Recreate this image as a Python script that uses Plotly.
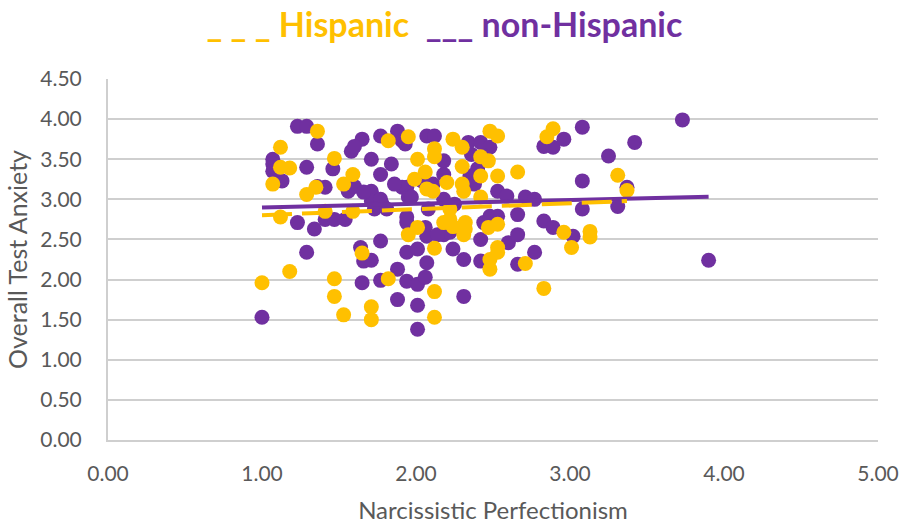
import numpy as np
import plotly.graph_objects as go

# Narcissistic perfectionism vs. overall test anxiety, by group
hisp_x = [1.00, 1.18, 1.47, 1.47, 1.53, 1.71, 1.71, 1.65, 1.82, 1.12,
          1.36, 1.12, 1.12, 1.18, 1.07, 1.35, 1.29, 1.47, 1.59, 1.53,
          1.82, 1.41, 1.59, 1.95, 2.12, 2.12, 2.24, 2.30, 2.48, 2.53,
          2.01, 2.30, 2.42, 2.47, 2.06, 1.99, 2.30, 2.31, 2.42, 2.53,
          2.66, 2.11, 2.07, 2.42, 2.85, 2.89, 3.31, 3.37, 2.96, 3.01,
          3.13, 3.13, 1.95, 2.01, 2.12, 2.12, 2.12, 2.83, 2.48, 2.53,
          2.48, 2.71, 2.18, 2.24, 2.31, 2.32, 2.47, 2.53, 2.22, 2.22,
          2.20, 2.53, 2.32]
hisp_y = [1.96, 2.10, 2.01, 1.79, 1.56, 1.66, 1.50, 2.33, 2.01, 2.78,
          3.85, 3.65, 3.40, 3.39, 3.19, 3.15, 3.06, 3.51, 3.31, 3.19,
          3.73, 2.85, 2.85, 3.78, 3.63, 3.53, 3.75, 3.65, 3.85, 3.79,
          3.50, 3.41, 3.53, 3.48, 3.34, 3.25, 3.19, 3.10, 3.29, 3.29,
          3.34, 3.10, 3.13, 3.03, 3.78, 3.88, 3.30, 3.11, 2.59, 2.40,
          2.60, 2.53, 2.56, 2.65, 2.39, 1.85, 1.53, 1.89, 2.25, 2.34,
          2.13, 2.20, 2.71, 2.66, 2.56, 2.71, 2.65, 2.69, 2.75, 2.88,
          3.21, 2.40, 2.63]

non_x = [1.00, 1.29, 1.66, 1.71, 1.65, 1.77, 1.77, 1.88, 1.88, 1.23,
         1.34, 1.41, 1.47, 1.54, 1.23, 1.29, 1.36, 1.07, 1.07, 1.07,
         1.13, 1.29, 1.36, 1.41, 1.46, 1.56, 1.58, 1.65, 1.60, 1.71,
         1.77, 1.77, 1.88, 1.91, 1.71, 1.71, 1.78, 1.91, 1.93, 2.07,
         2.12, 2.34, 2.42, 2.48, 2.18, 2.40, 2.18, 2.35, 1.94, 1.95,
         2.11, 2.53, 2.59, 2.71, 2.77, 2.83, 2.89, 2.66, 3.73, 3.08,
         2.96, 3.42, 3.25, 3.08, 3.37, 3.31, 3.08, 3.90, 3.02, 1.94,
         2.06, 2.07, 1.94, 2.01, 2.07, 1.94, 2.01, 2.06, 2.01, 2.01,
         2.31, 2.24, 2.31, 2.42, 2.42, 2.60, 2.66, 2.66, 2.77, 2.18,
         2.44, 2.83, 2.89, 1.60, 1.66, 1.77, 1.73, 1.81, 1.94, 1.97,
         2.04, 2.08, 2.18, 2.22, 2.14, 1.64, 2.38, 2.48, 2.53, 1.84,
         1.86, 2.25, 2.36, 2.44]
non_y = [1.53, 2.34, 2.23, 2.24, 1.96, 1.99, 2.48, 1.75, 2.13, 2.71,
         2.63, 2.75, 2.75, 2.75, 3.91, 3.91, 3.69, 3.50, 3.44, 3.35,
         3.23, 3.40, 3.16, 3.15, 3.38, 3.10, 3.60, 3.75, 3.66, 3.50,
         3.31, 3.79, 3.85, 3.73, 3.10, 2.98, 2.94, 3.15, 3.69, 3.79,
         3.79, 3.71, 3.71, 3.65, 3.48, 3.38, 3.31, 3.29, 3.15, 3.03,
         3.19, 3.10, 3.04, 3.03, 3.00, 3.66, 3.65, 2.81, 3.99, 3.90,
         3.75, 3.71, 3.54, 3.23, 3.15, 2.91, 2.88, 2.24, 2.54, 2.71,
         2.65, 2.54, 2.34, 2.38, 2.21, 1.98, 1.94, 2.03, 1.68, 1.38,
         1.79, 2.38, 2.25, 2.50, 2.23, 2.46, 2.56, 2.19, 2.34, 2.56,
         2.71, 2.73, 2.65, 3.16, 3.09, 3.00, 2.88, 2.88, 2.78, 3.03,
         3.23, 2.88, 3.00, 2.59, 2.56, 2.40, 3.19, 2.79, 2.79, 3.44,
         3.19, 2.94, 3.56, 3.54]

x_ticks = [0, 1, 2, 3, 4, 5]
y_ticks = [0, 0.5, 1, 1.5, 2, 2.5, 3, 3.5, 4, 4.5]

GOLD = "#FFC000"
PURPLE = "#7030A0"
GREY_TXT = "#595959"
GRID = "#CFCFCF"
CLEAR = "rgba(0,0,0,0)"
FONT = "Lato, Open Sans, sans-serif"
SP = "&nbsp;"


def trend(xs, ys):
    """Least-squares line spanning the observed x range."""
    xs = np.asarray(xs)
    ys = np.asarray(ys)
    slope, intercept = np.polyfit(xs, ys, 1)
    xr = np.array([xs.min(), xs.max()])
    return xr, slope * xr + intercept


fig = go.Figure()

fig.add_trace(go.Scatter(
    x=non_x, y=non_y, mode="markers", showlegend=False,
    marker=dict(color=PURPLE, size=15, line=dict(width=0)),
))
fig.add_trace(go.Scatter(
    x=hisp_x, y=hisp_y, mode="markers", showlegend=False,
    marker=dict(color=GOLD, size=15, line=dict(width=0)),
))

tx, ty = trend(non_x, non_y)
fig.add_trace(go.Scatter(
    x=tx, y=ty, mode="lines", showlegend=False,
    line=dict(color=PURPLE, width=4),
))
tx, ty = trend(hisp_x, hisp_y)
fig.add_trace(go.Scatter(
    x=tx, y=ty, mode="lines", showlegend=False,
    line=dict(color=GOLD, width=4, dash="30px,10px"),
))

fig.update_layout(
    width=907, height=527,
    margin=dict(l=108, r=29, t=79, b=87),
    paper_bgcolor="white", plot_bgcolor="white",
    font=dict(family=FONT, color=GREY_TXT),
    title=dict(
        text=(f"<span style='color:{GOLD}'>_{SP}_{SP}_{SP}Hispanic</span>"
              f"{SP}{SP}<span style='color:{PURPLE}'>___{SP}non-Hispanic</span>"),
        x=0.49, xanchor="center", y=0.952, yanchor="middle",
        font=dict(family=FONT, size=34, weight="bold"),
    ),
    xaxis=dict(
        range=[0, 5], tickvals=x_ticks,
        ticktext=[f"{v:.2f}" for v in x_ticks],
        showgrid=False, zeroline=False, automargin=False,
        showline=True, linecolor=GRID, linewidth=2,
        ticks="outside", ticklen=14, tickcolor=CLEAR,
        tickfont=dict(size=21, color=GREY_TXT),
        title=dict(text="Narcissistic Perfectionism",
                   font=dict(size=24, color=GREY_TXT), standoff=18),
    ),
    yaxis=dict(
        range=[0, 4.5], tickvals=y_ticks,
        ticktext=[f"{v:.2f}" for v in y_ticks],
        showgrid=True, gridcolor=GRID, gridwidth=2, zeroline=False,
        automargin=False,
        showline=True, linecolor=GRID, linewidth=2,
        ticks="outside", ticklen=20, tickcolor=CLEAR,
        tickfont=dict(size=21, color=GREY_TXT),
        title=dict(text="Overall Test Anxiety",
                   font=dict(size=25, color=GREY_TXT), standoff=6),
    ),
)

fig.write_html("out.html")
